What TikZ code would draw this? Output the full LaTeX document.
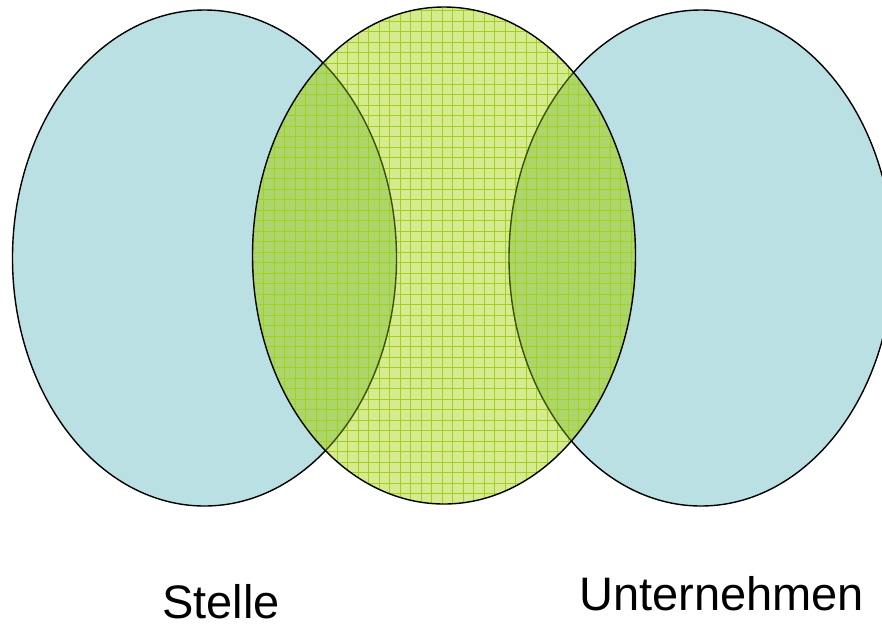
\documentclass[tikz,border=0pt]{standalone}
\usepackage{fontspec}
\setmainfont{Liberation Sans}
\definecolor{cyanfill}{HTML}{BBE0E3}
\definecolor{lightgreen}{HTML}{D6EB90}
\definecolor{overlapgreen}{HTML}{ACD56B}
\definecolor{gridgreen}{HTML}{A0D020}
\definecolor{olive}{HTML}{3A5200}
\tikzset{
  setoutline/.style={line width=1.4pt, draw=black},
  lbl/.style={anchor=base west, inner sep=0pt, text depth=0pt, font=\fontsize{47}{52}\selectfont}
}
\begin{document}
\begin{tikzpicture}[x=1pt,y=-1pt]
\clip (0,0) rectangle (882,630);
\fill[white] (0,0) rectangle (882,630);
% outer sets
\path[setoutline, fill=cyanfill] (204.5,258) ellipse [x radius=192, y radius=248];
\path[setoutline, fill=cyanfill] (701,258) ellipse [x radius=192, y radius=248];
% middle set
\fill[lightgreen] (444,255.5) ellipse [x radius=191.5, y radius=248.5];
\begin{scope}
  \clip (444,255.5) ellipse [x radius=191.5, y radius=248.5];
  \fill[overlapgreen] (204.5,258) ellipse [x radius=192, y radius=248];
  \fill[overlapgreen] (701,258) ellipse [x radius=192, y radius=248];
  \foreach \gx in {253,263.5,...,640} {\draw[gridgreen, line width=0.8pt] (\gx,0) -- (\gx,510);}
  \foreach \gy in {0,10.5,...,510} {\draw[gridgreen, line width=0.8pt] (250,\gy) -- (640,\gy);}
  \draw[olive, line width=1.4pt] (204.5,258) ellipse [x radius=192, y radius=248];
  \draw[olive, line width=1.4pt] (701,258) ellipse [x radius=192, y radius=248];
\end{scope}
\draw[setoutline] (444,255.5) ellipse [x radius=191.5, y radius=248.5];
% labels
\node[lbl] (stelle) at (162,618) {Stelle};
\node[lbl] (unternehmen) at (579,610) {Unternehmen};
\end{tikzpicture}
\end{document}
